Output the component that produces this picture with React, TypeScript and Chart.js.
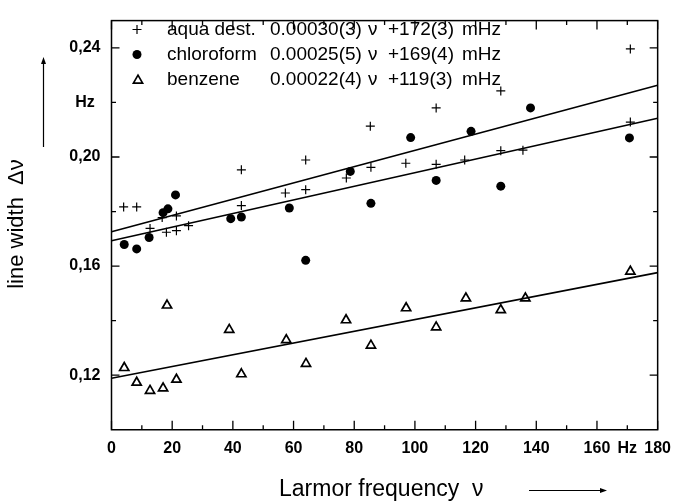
import React, { useEffect, useRef } from 'react';
import { Chart, registerables } from 'chart.js';

Chart.register(...registerables);

// ---- data ----
const aquaX = [4.0, 8.3, 12.7, 16.7, 18.1, 21.4, 21.4, 25.4, 42.8, 42.8, 57.3, 64.0, 64.0, 77.4, 85.3, 85.5, 97.0, 107.0, 107.0, 116.4, 128.3, 128.3, 135.6, 171.0, 171.0];
const aquaY = [0.1817, 0.1817, 0.1738, 0.1778, 0.1724, 0.1784, 0.1730, 0.1748, 0.1953, 0.1822, 0.1868, 0.1989, 0.1880, 0.1923, 0.2113, 0.1962, 0.1977, 0.2180, 0.1973, 0.1989, 0.2242, 0.2023, 0.2025, 0.2396, 0.2128];

const chloroX = [4.2, 8.3, 12.4, 17.0, 18.6, 21.1, 39.3, 42.8, 58.6, 64.0, 78.7, 85.5, 98.6, 107.0, 118.5, 128.3, 138.1, 170.7];
const chloroY = [0.1679, 0.1663, 0.1705, 0.1796, 0.1810, 0.1861, 0.1774, 0.1780, 0.1813, 0.1621, 0.1947, 0.1830, 0.2071, 0.1914, 0.2094, 0.1893, 0.2180, 0.2070];

const benzeneX = [4.2, 8.3, 12.7, 17.0, 18.3, 21.4, 38.8, 42.8, 57.6, 64.1, 77.3, 85.5, 97.1, 107.0, 116.8, 128.3, 136.4, 171.0];
const benzeneY = [0.1227, 0.1173, 0.1143, 0.1152, 0.1456, 0.1184, 0.1367, 0.1204, 0.1329, 0.1242, 0.1402, 0.1309, 0.1446, 0.1376, 0.1482, 0.1439, 0.1482, 0.1580];

const fitX = [0, 180];
const aquaFit = [0.1726, 0.2263];
const chloroFit = [0.1693, 0.2142];
const benzeneFit = [0.1189, 0.1576];

const xTickValues = [0, 20, 40, 60, 80, 100, 120, 140, 160, 170, 180];
const xTickLabels = ['0', '20', '40', '60', '80', '100', '120', '140', '160', 'Hz', '180'];
const yTickValues = [0.12, 0.16, 0.2, 0.22, 0.24];
const yTickLabels = ['0,12', '0,16', '0,20', 'Hz', '0,24'];

const xMajor = [0, 20, 40, 60, 80, 100, 120, 140, 160, 180];
const xMinor = [10, 30, 50, 70, 90, 110, 130, 150, 170];
const yMajor = [0.12, 0.16, 0.2, 0.24];
const yMinor = [0.14, 0.18, 0.22];

const legendNames = ['aqua dest.', 'chloroform', 'benzene'];
const legendSlopes = ['0.00030(3)', '0.00025(5)', '0.00022(4)'];
const legendIntercepts = ['+172(3)', '+169(4)', '+119(3)'];

const xTitle = 'Larmor frequency  \u03bd';
const yTitle = 'line width  \u0394\u03bd';

const FONT = '"Liberation Sans", Arial, Helvetica, sans-serif';

const toPts = (xs: number[], ys: number[]) => xs.map((x, i) => ({ x, y: ys[i] }));

function drawMarker(ctx: CanvasRenderingContext2D, kind: number, x: number, y: number) {
  ctx.save();
  ctx.strokeStyle = '#000';
  ctx.fillStyle = '#000';
  if (kind === 0) {
    const r = 4.5;
    ctx.lineWidth = 1.2;
    ctx.beginPath();
    ctx.moveTo(x - r, y);
    ctx.lineTo(x + r, y);
    ctx.moveTo(x, y - r);
    ctx.lineTo(x, y + r);
    ctx.stroke();
  } else if (kind === 1) {
    ctx.beginPath();
    ctx.arc(x, y, 4.5, 0, Math.PI * 2);
    ctx.fill();
  } else {
    const r = 5.3;
    ctx.lineWidth = 1.7;
    ctx.beginPath();
    ctx.moveTo(x, y - r);
    ctx.lineTo(x + 0.866 * r, y + 0.5 * r);
    ctx.lineTo(x - 0.866 * r, y + 0.5 * r);
    ctx.closePath();
    ctx.stroke();
  }
  ctx.restore();
}

const decorPlugin = {
  id: 'decor',
  afterDraw(chart: any) {
    const ctx: CanvasRenderingContext2D = chart.ctx;
    const { left, right, top, bottom } = chart.chartArea;
    const xs = chart.scales.x;
    const ys = chart.scales.y;
    ctx.save();
    ctx.strokeStyle = '#000';
    ctx.fillStyle = '#000';
    ctx.lineWidth = 1.5;
    ctx.strokeRect(left, top, right - left, bottom - top);

    ctx.lineWidth = 1.3;
    ctx.beginPath();
    const xt = (v: number, len: number) => {
      const p = xs.getPixelForValue(v);
      ctx.moveTo(p, bottom);
      ctx.lineTo(p, bottom - len);
      ctx.moveTo(p, top);
      ctx.lineTo(p, top + len);
    };
    const yt = (v: number, len: number) => {
      const p = ys.getPixelForValue(v);
      ctx.moveTo(left, p);
      ctx.lineTo(left + len, p);
      ctx.moveTo(right, p);
      ctx.lineTo(right - len, p);
    };
    xMajor.forEach((v) => xt(v, 9));
    xMinor.forEach((v) => xt(v, 4.5));
    yMajor.forEach((v) => yt(v, 8));
    yMinor.forEach((v) => yt(v, 4.5));
    ctx.stroke();

    // legend
    const rowsY = [29.5, 54.5, 79.5];
    ctx.font = `19px ${FONT}`;
    ctx.textBaseline = 'middle';
    ctx.textAlign = 'left';
    rowsY.forEach((ry, i) => {
      drawMarker(ctx, i, i === 2 ? 138 : 137, i === 2 ? ry + 1 : ry);
      ctx.fillText(legendNames[i], 167, ry);
      ctx.fillText(legendSlopes[i], 270, ry);
      ctx.fillText('\u03bd', 368, ry);
      ctx.fillText(legendIntercepts[i], 388, ry);
      ctx.fillText('mHz', 462, ry);
    });

    // axis titles
    ctx.font = `23px ${FONT}`;
    ctx.textBaseline = 'alphabetic';
    ctx.textAlign = 'left';
    ctx.fillText(xTitle, 279, 496);

    ctx.save();
    ctx.font = `22px ${FONT}`;
    ctx.translate(23, 224);
    ctx.rotate(-Math.PI / 2);
    ctx.textAlign = 'center';
    ctx.fillText(yTitle, 0, 0);
    ctx.restore();

    // arrows
    ctx.lineWidth = 1.2;
    ctx.beginPath();
    ctx.moveTo(529, 490.5);
    ctx.lineTo(602, 490.5);
    ctx.moveTo(43.5, 147);
    ctx.lineTo(43.5, 62);
    ctx.stroke();
    ctx.beginPath();
    ctx.moveTo(607, 490.5);
    ctx.lineTo(600, 488);
    ctx.lineTo(600, 493);
    ctx.closePath();
    ctx.fill();
    ctx.beginPath();
    ctx.moveTo(43.5, 57);
    ctx.lineTo(41, 64);
    ctx.lineTo(46, 64);
    ctx.closePath();
    ctx.fill();

    ctx.restore();
  },
};

export default function App() {
  const ref = useRef<HTMLCanvasElement | null>(null);
  useEffect(() => {
    if (!ref.current) return;
    const tickFont = { family: FONT, size: 16, weight: 'bold' as const };
    const chart = new Chart(ref.current, {
      type: 'scatter',
      data: {
        datasets: [
          {
            label: legendNames[0],
            data: toPts(aquaX, aquaY),
            pointStyle: 'cross',
            pointRadius: 4.5,
            borderColor: '#000',
            backgroundColor: '#000',
            borderWidth: 1.2,
            showLine: false,
            order: 0,
          },
          {
            label: legendNames[1],
            data: toPts(chloroX, chloroY),
            pointStyle: 'circle',
            pointRadius: 4.5,
            borderColor: '#000',
            backgroundColor: '#000',
            borderWidth: 0,
            showLine: false,
            order: 0,
          },
          {
            label: legendNames[2],
            data: toPts(benzeneX, benzeneY),
            pointStyle: 'triangle',
            pointRadius: 5.3,
            borderColor: '#000',
            backgroundColor: 'rgba(255,255,255,0)',
            borderWidth: 1.7,
            showLine: false,
            order: 0,
          },
          {
            label: 'fit aqua',
            data: toPts(fitX, aquaFit),
            showLine: true,
            pointRadius: 0,
            borderColor: '#000',
            borderWidth: 1.6,
            order: 1,
          },
          {
            label: 'fit chloroform',
            data: toPts(fitX, chloroFit),
            showLine: true,
            pointRadius: 0,
            borderColor: '#000',
            borderWidth: 1.6,
            order: 1,
          },
          {
            label: 'fit benzene',
            data: toPts(fitX, benzeneFit),
            showLine: true,
            pointRadius: 0,
            borderColor: '#000',
            borderWidth: 1.6,
            order: 1,
          },
        ],
      },
      options: {
        animation: false,
        responsive: false,
        devicePixelRatio: 1,
        layout: { padding: { top: 15.4, right: 17.5, left: 0, bottom: 0 } },
        plugins: {
          legend: { display: false },
          tooltip: { enabled: false },
        },
        scales: {
          x: {
            type: 'linear',
            min: 0,
            max: 180,
            grid: { display: false, drawTicks: false },
            border: { display: false },
            ticks: {
              color: '#000',
              font: tickFont,
              padding: 9,
              maxRotation: 0,
              autoSkip: false,
              callback: (_v: any, i: number) => xTickLabels[i],
            },
            afterBuildTicks: (s: any) => {
              s.ticks = xTickValues.map((v) => ({ value: v }));
            },
            afterFit: (s: any) => {
              s.height = 71.25;
            },
          },
          y: {
            type: 'linear',
            min: 0.1,
            max: 0.25,
            grid: { display: false, drawTicks: false },
            border: { display: false },
            ticks: {
              color: '#000',
              font: tickFont,
              padding: 11,
              crossAlign: 'center',
              autoSkip: false,
              callback: (_v: any, i: number) => yTickLabels[i],
            },
            afterBuildTicks: (s: any) => {
              s.ticks = yTickValues.map((v) => ({ value: v }));
            },
            afterFit: (s: any) => {
              s.width = 111.5;
            },
          },
        },
      },
      plugins: [decorPlugin],
    } as any);
    return () => chart.destroy();
  }, []);

  return (
    <div style={{ position: 'absolute', left: 0, top: 0, width: 680, height: 501, background: '#fff' }}>
      <canvas ref={ref} width={680} height={501} style={{ display: 'block', width: 680, height: 501 }} />
    </div>
  );
}
